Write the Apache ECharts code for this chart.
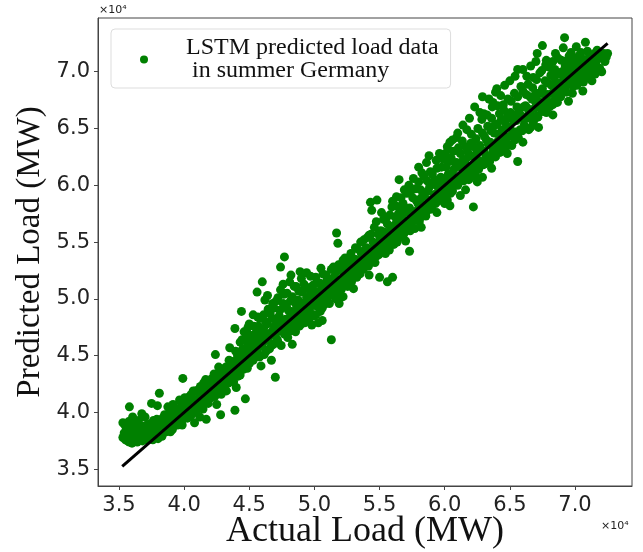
<!DOCTYPE html>
<html>
<head>
<meta charset="utf-8">
<title>LSTM predicted load - summer Germany</title>
<script src="https://cdn.jsdelivr.net/npm/echarts@6/dist/echarts.min.js"></script>
<style>
  html, body { margin: 0; padding: 0; background: #fff; }
  #chart { width: 643px; height: 552px; }
</style>
</head>
<body>
<div id="chart"></div>
<script>
// values in thousands of MW: [actual, predicted]
var band35to40 = [[35.3,37.8],[35.3,39.1],[35.4,38.2],[35.5,37.6],[35.6,38.6],[35.7,37.9],[35.8,40.5],[35.8,37.4],[35.9,38.3],[36.0,37.3],[36.1,38.9],[36.2,37.7],[36.3,38.2],[36.4,37.4],[36.5,39.3],[36.6,37.9],[36.7,38.6],[36.8,37.5],[36.9,38.1],[37.0,39.6],[37.1,37.6],[37.2,38.4],[37.3,37.9],[37.4,39.0],[37.5,40.8],[37.5,38.2],[37.6,37.6],[37.7,38.7],[37.8,38.0],[37.9,39.4],[38.0,37.7],[38.1,41.7],[38.1,38.5],[38.2,39.0],[38.3,37.9],[38.4,38.8],[38.5,39.8],[38.6,38.3],[38.7,39.2],[38.8,38.6],[38.9,40.1],[39.0,39.0],[39.1,38.5],[39.2,39.6],[39.3,40.4],[39.4,39.1],[39.5,38.9],[39.6,40.0],[39.7,39.5],[39.8,40.8],[39.9,43.0],[39.9,39.4],[40.0,40.2],[40.1,39.6]];

var band40to45 = [[40.2,40.9],[40.3,40.1],[40.4,41.4],[40.5,39.7],[40.6,40.6],[40.7,41.9],[40.8,39.1],[40.8,40.3],[40.9,41.1],[41.0,40.5],[41.1,42.0],[41.2,41.3],[41.3,40.6],[41.4,41.8],[41.5,42.6],[41.6,41.0],[41.7,39.4],[41.7,41.9],[41.8,42.3],[41.9,41.2],[42.0,42.8],[42.1,41.6],[42.2,42.1],[42.3,43.4],[42.4,45.1],[42.4,41.7],[42.5,42.6],[42.6,43.1],[42.7,42.0],[42.8,39.8],[42.8,43.6],[42.9,42.5],[43.0,43.2],[43.1,42.2],[43.2,44.0],[43.3,43.0],[43.4,42.6],[43.5,45.7],[43.5,43.8],[43.6,44.4],[43.7,43.1],[43.8,42.7],[43.9,40.2],[43.9,47.4],[43.9,44.2],[44.0,43.5],[44.1,45.0],[44.2,44.1],[44.3,43.3],[44.4,48.9],[44.4,44.8],[44.5,45.6],[44.6,44.0],[44.7,41.2],[44.7,45.2],[44.8,44.5],[44.9,47.5],[44.9,46.0],[45.0,44.3]];

var band45to50 = [[45.1,45.4],[45.2,46.5],[45.3,44.6],[45.4,45.9],[45.5,47.0],[45.6,50.6],[45.6,45.3],[45.7,46.2],[45.8,48.3],[45.8,44.9],[45.9,46.8],[46.0,51.5],[46.0,45.8],[46.1,47.4],[46.2,49.9],[46.2,46.3],[46.3,45.4],[46.4,47.8],[46.5,46.6],[46.6,48.7],[46.7,45.9],[46.8,47.2],[46.9,49.2],[47.0,43.1],[47.0,46.8],[47.1,47.9],[47.2,46.2],[47.3,48.5],[47.4,52.8],[47.4,50.8],[47.5,47.4],[47.6,49.6],[47.7,53.7],[47.7,46.9],[47.8,48.2],[47.9,47.5],[48.0,49.0],[48.1,51.5],[48.1,48.4],[48.2,47.2],[48.3,50.2],[48.4,48.8],[48.5,47.7],[48.6,49.5],[48.7,48.1],[48.8,50.7],[48.9,52.4],[48.9,48.9],[49.0,47.8],[49.1,49.6],[49.2,51.3],[49.3,48.6],[49.4,52.3],[49.4,50.1],[49.5,49.0],[49.6,48.3],[49.7,50.5],[49.8,49.4],[49.9,51.2],[50.0,49.9]];

var band50to56 = [[50.1,48.6],[50.2,50.6],[50.3,49.3],[50.4,51.4],[50.5,50.0],[50.6,48.1],[50.6,49.2],[50.7,51.0],[50.8,50.4],[50.9,52.1],[51.0,49.8],[51.1,51.5],[51.2,50.6],[51.3,46.4],[51.3,52.6],[51.4,50.9],[51.5,51.9],[51.6,50.3],[51.7,55.8],[51.7,52.4],[51.8,54.9],[51.8,51.2],[51.9,50.7],[52.0,52.9],[52.1,51.6],[52.2,50.2],[52.2,53.4],[52.3,52.1],[52.4,51.3],[52.5,53.0],[52.6,52.3],[52.7,51.7],[52.8,54.0],[52.9,52.8],[53.0,51.9],[53.1,53.5],[53.2,52.6],[53.3,54.4],[53.4,53.1],[53.5,52.2],[53.6,54.0],[53.7,53.3],[53.8,55.2],[53.9,52.9],[54.0,54.5],[54.1,53.6],[54.2,55.6],[54.3,58.5],[54.3,54.1],[54.4,57.8],[54.4,53.3],[54.5,55.0],[54.6,56.3],[54.7,54.4],[54.8,58.7],[54.8,53.8],[54.9,55.7],[55.0,51.9],[55.0,54.6],[55.1,56.0],[55.2,55.1],[55.3,57.0],[55.4,54.3],[55.5,55.8],[55.6,51.5],[55.6,56.6],[55.7,54.9],[55.8,57.4],[55.9,55.5],[56.0,51.9],[56.0,56.2]];

var band56to63 = [[56.1,54.8],[56.2,57.2],[56.3,59.0],[56.3,55.9],[56.4,56.7],[56.5,60.5],[56.5,55.4],[56.6,57.9],[56.7,56.3],[56.8,58.4],[56.9,55.9],[57.0,57.6],[57.1,59.3],[57.2,56.8],[57.3,54.2],[57.3,58.0],[57.4,56.5],[57.5,59.6],[57.6,57.3],[57.7,56.2],[57.8,58.7],[57.9,57.8],[58.0,60.3],[58.1,57.1],[58.2,58.9],[58.3,57.6],[58.4,60.8],[58.5,58.3],[58.6,62.0],[58.6,57.7],[58.7,59.5],[58.8,58.7],[58.9,61.2],[59.0,58.0],[59.1,60.1],[59.2,59.2],[59.3,58.4],[59.4,61.5],[59.5,59.8],[59.6,58.7],[59.7,60.7],[59.8,59.3],[59.9,62.3],[60.0,58.4],[60.0,60.4],[60.1,61.6],[60.2,58.7],[60.2,59.7],[60.3,61.0],[60.4,63.8],[60.4,60.2],[60.5,62.4],[60.6,64.0],[60.6,59.5],[60.7,61.4],[60.8,60.6],[60.9,64.2],[60.9,62.0],[61.0,60.0],[61.1,61.7],[61.2,59.1],[61.2,62.8],[61.3,60.9],[61.4,62.2],[61.5,61.3],[61.6,63.4],[61.7,64.9],[61.7,60.7],[61.8,62.5],[61.9,61.6],[62.0,63.7],[62.1,60.8],[62.2,58.1],[62.2,62.6],[62.3,61.9],[62.4,64.1],[62.5,62.9],[62.6,61.4],[62.7,66.4],[62.7,63.5],[62.8,62.1],[62.9,67.8],[62.9,60.7],[62.9,64.6],[63.0,63.0]];

var band63to73 = [[63.1,61.9],[63.2,64.0],[63.3,65.2],[63.4,62.6],[63.5,63.8],[63.6,65.9],[63.7,63.1],[63.8,64.6],[63.9,68.2],[63.9,62.5],[64.0,65.4],[64.1,63.9],[64.2,66.3],[64.3,63.3],[64.4,64.9],[64.5,63.7],[64.5,67.1],[64.6,68.8],[64.6,65.6],[64.7,64.2],[64.8,66.0],[64.9,63.6],[65.0,65.1],[65.1,67.4],[65.2,64.5],[65.3,66.2],[65.4,64.0],[65.5,65.7],[65.6,70.2],[65.6,62.1],[65.6,67.8],[65.7,66.6],[65.8,64.9],[65.9,66.1],[66.0,68.3],[66.1,65.3],[66.2,67.0],[66.3,65.9],[66.4,68.9],[66.5,66.4],[66.6,65.1],[66.7,67.6],[66.8,65.5],[66.8,69.5],[66.9,66.8],[67.0,68.1],[67.1,71.6],[67.1,66.1],[67.2,67.4],[67.3,69.9],[67.4,66.7],[67.5,72.3],[67.5,68.5],[67.6,67.0],[67.7,69.2],[67.8,66.4],[67.9,68.0],[68.0,70.4],[68.1,67.2],[68.2,68.8],[68.3,67.1],[68.3,70.9],[68.4,69.5],[68.5,67.9],[68.6,68.4],[68.7,71.2],[68.8,69.0],[68.9,67.8],[69.0,70.0],[69.1,72.1],[69.2,73.0],[69.2,68.6],[69.3,69.6],[69.4,71.0],[69.5,68.9],[69.6,70.3],[69.7,71.7],[69.8,68.1],[69.8,69.5],[69.9,70.8],[70.0,69.2],[70.1,72.2],[70.1,70.4],[70.2,69.0],[70.3,71.4],[70.4,70.0],[70.5,69.4],[70.6,71.1],[70.7,70.2],[70.8,72.6],[70.9,70.7],[71.0,69.6],[71.1,71.3],[71.2,70.5],[71.4,70.0],[71.5,71.6],[71.6,70.8],[71.8,71.5],[71.9,70.3],[72.1,71.2],[72.3,70.9],[72.5,71.6]];

// extra points filling the dense core of the cloud
var core35to45 = [[35.45,38.9],[35.55,38.0],[35.65,37.5],[35.75,39.2],[35.95,38.7],[36.05,39.6],[36.15,38.0],[36.35,38.7],[36.45,37.8],[36.55,38.5],[36.75,39.9],[36.85,38.8],[37.05,38.3],[37.15,38.9],[37.35,38.6],[37.45,37.7],[37.65,39.3],[37.85,38.5],[37.95,40.6],[38.05,39.2],[38.25,38.4],[38.35,39.5],[38.55,38.9],[38.75,40.5],[38.85,39.4],[38.95,38.3],[39.05,39.9],[39.15,40.7],[39.25,38.9],[39.45,40.2],[39.55,39.4],[39.65,41.1],[39.75,39.8],[39.85,38.9],[39.95,40.6],[40.05,41.3],[40.15,40.3],[40.25,39.5],[40.35,41.0],[40.45,40.6],[40.55,41.6],[40.65,39.9],[40.75,40.9],[40.85,41.9],[40.95,40.2],[41.05,41.2],[41.15,40.7],[41.25,42.3],[41.35,41.2],[41.45,40.3],[41.55,41.5],[41.65,42.9],[41.75,41.0],[41.85,40.8],[41.95,42.5],[42.05,41.3],[42.15,43.0],[42.25,42.4],[42.35,41.4],[42.45,43.3],[42.55,42.0],[42.65,44.0],[42.75,42.8],[42.85,41.6],[42.95,43.5],[43.05,42.6],[43.15,43.9],[43.25,41.9],[43.35,43.7],[43.45,44.6],[43.55,42.9],[43.65,43.5],[43.75,44.5],[43.85,43.3],[43.95,45.4],[44.05,44.4],[44.15,43.2],[44.25,45.3],[44.35,44.0],[44.45,46.4],[44.55,43.8],[44.65,44.9],[44.75,46.6],[44.85,43.9],[44.95,45.3]];

var core45to50 = [[45.05,46.8],[45.15,44.6],[45.25,45.8],[45.35,47.6],[45.45,45.1],[45.55,46.3],[45.65,48.4],[45.75,44.9],[45.85,45.9],[45.95,47.3],[46.05,46.4],[46.15,45.1],[46.25,48.0],[46.35,46.9],[46.45,49.1],[46.55,45.6],[46.65,47.0],[46.75,48.3],[46.85,46.0],[46.95,47.6],[47.05,49.8],[47.15,46.4],[47.25,47.2],[47.35,49.0],[47.45,45.9],[47.55,48.0],[47.65,50.4],[47.75,47.1],[47.85,49.3],[47.95,46.6],[48.05,48.1],[48.15,49.8],[48.25,47.5],[48.35,48.9],[48.45,51.1],[48.55,47.1],[48.65,48.4],[48.75,49.9],[48.85,47.6],[48.95,49.2],[49.05,50.6],[49.15,48.3],[49.25,47.9],[49.35,49.2],[49.45,51.0],[49.55,48.1],[49.65,49.7],[49.75,48.7],[49.85,50.3],[49.95,48.5]];

var core50to56 = [[50.05,50.6],[50.15,49.4],[50.25,51.4],[50.35,50.1],[50.45,48.9],[50.55,50.9],[50.65,52.2],[50.75,49.5],[50.85,50.8],[50.95,51.6],[51.05,50.2],[51.15,49.6],[51.25,51.7],[51.35,50.4],[51.45,52.8],[51.55,51.3],[51.65,50.0],[51.75,51.7],[51.85,53.0],[51.95,51.4],[52.05,50.8],[52.15,52.5],[52.25,51.1],[52.35,53.6],[52.45,52.0],[52.55,51.1],[52.65,53.1],[52.75,52.5],[52.85,51.5],[52.95,53.5],[53.05,52.7],[53.15,54.5],[53.25,51.9],[53.35,53.4],[53.45,52.6],[53.55,55.0],[53.65,53.6],[53.75,52.6],[53.85,54.3],[53.95,53.3],[54.05,55.4],[54.15,52.9],[54.25,54.3],[54.35,55.7],[54.45,53.9],[54.55,54.6],[54.65,53.2],[54.75,56.8],[54.85,54.9],[54.95,53.9],[55.05,55.3],[55.15,57.6],[55.25,54.4],[55.35,55.9],[55.45,54.0],[55.55,57.2],[55.65,55.2],[55.75,54.3],[55.85,56.3],[55.95,58.1]];

var core56to63 = [[56.05,55.2],[56.15,56.5],[56.25,58.2],[56.35,55.0],[56.45,57.5],[56.55,56.1],[56.65,58.9],[56.75,57.0],[56.85,55.7],[56.95,58.0],[57.05,56.4],[57.15,57.8],[57.25,60.0],[57.35,56.0],[57.45,57.7],[57.55,58.9],[57.65,56.9],[57.75,59.7],[57.85,57.1],[57.95,58.4],[58.05,56.8],[58.15,59.6],[58.25,61.1],[58.35,58.0],[58.45,59.2],[58.55,57.3],[58.65,60.4],[58.75,58.2],[58.85,59.9],[58.95,57.9],[59.05,61.0],[59.15,58.6],[59.25,60.5],[59.35,62.2],[59.45,58.6],[59.55,60.3],[59.65,59.3],[59.75,61.6],[59.85,58.9],[59.95,60.0],[60.05,62.8],[60.15,59.4],[60.25,60.9],[60.35,62.1],[60.45,59.3],[60.55,61.0],[60.65,63.0],[60.75,60.0],[60.85,61.9],[60.95,60.3],[61.05,63.3],[61.15,60.6],[61.25,61.6],[61.35,63.9],[61.45,60.4],[61.55,62.1],[61.65,61.1],[61.75,63.0],[61.85,60.5],[61.95,62.6],[62.05,64.5],[62.15,61.4],[62.25,63.4],[62.35,60.9],[62.45,62.4],[62.55,65.0],[62.65,61.7],[62.75,63.1],[62.85,65.8],[62.95,61.8]];

var core63to73 = [[63.05,64.3],[63.15,62.6],[63.25,66.2],[63.35,63.6],[63.45,62.1],[63.55,64.8],[63.65,66.9],[63.75,62.9],[63.85,65.3],[63.95,63.6],[64.05,67.0],[64.15,64.5],[64.25,62.9],[64.35,65.8],[64.45,64.1],[64.55,66.6],[64.65,63.2],[64.75,65.2],[64.85,67.6],[64.95,64.3],[65.05,66.4],[65.15,63.5],[65.25,65.7],[65.35,68.1],[65.45,64.7],[65.55,66.9],[65.65,64.2],[65.75,65.9],[65.85,68.7],[65.95,64.8],[66.05,66.9],[66.15,65.0],[66.25,68.0],[66.35,66.8],[66.45,64.9],[66.55,67.8],[66.65,66.2],[66.75,68.6],[66.85,65.8],[66.95,67.4],[67.05,69.3],[67.15,66.0],[67.25,68.1],[67.35,67.0],[67.45,70.1],[67.55,66.5],[67.65,68.0],[67.75,70.6],[67.85,67.4],[67.95,69.0],[68.05,66.9],[68.15,69.7],[68.25,68.1],[68.35,67.4],[68.45,70.2],[68.55,68.9],[68.65,67.3],[68.75,69.8],[68.85,68.3],[68.95,71.0],[69.05,68.5],[69.15,69.4],[69.25,70.5],[69.35,68.2],[69.45,70.0],[69.55,71.4],[69.65,69.1],[69.75,70.1],[69.85,68.7],[69.95,71.2],[70.05,70.0],[70.15,68.8],[70.25,70.7],[70.35,69.5],[70.45,71.7],[70.55,70.3],[70.65,69.1],[70.75,71.0],[70.85,69.9],[70.95,71.8],[71.05,70.4],[71.15,69.4],[71.3,71.1],[71.45,70.6],[71.55,69.8],[71.7,71.9],[71.75,70.3],[71.95,71.2],[72.05,70.0],[72.2,71.6],[72.4,71.3]];

// points on the upper and lower fringe of the cloud
var fringeUpper = [[44.3,46.2],[44.6,47.1],[45.0,47.8],[45.3,48.6],[45.7,47.6],[46.1,48.6],[46.4,50.3],[46.8,49.6],[47.2,50.1],[47.6,51.3],[47.9,50.5],[48.2,52.1],[48.6,51.1],[49.0,51.8],[49.3,50.9],[49.7,52.0],[50.1,51.9],[50.5,52.7],[56.0,58.6],[56.9,59.6],[57.6,60.6],[58.0,61.6],[58.8,62.6],[59.6,62.8],[60.2,63.4],[61.0,64.6],[61.4,65.3],[61.9,65.9],[62.3,66.9],[63.0,66.3],[63.4,67.6],[63.7,67.3],[64.0,68.5],[64.3,67.9],[65.0,69.2],[65.4,69.6],[66.0,70.2],[66.3,69.6],[66.6,70.5],[67.0,70.9],[67.8,71.0],[68.5,71.6]];
var fringeLower = [[41.2,39.6],[42.5,40.7],[44.0,42.2],[45.9,44.1],[46.7,44.6],[48.3,46.0],[49.8,47.7],[50.3,47.9],[51.9,49.6],[53.0,50.9],[54.2,52.1],[57.0,55.1],[58.2,56.3],[59.4,57.6],[60.4,58.2],[61.6,59.6],[62.5,60.3],[63.6,61.5],[64.8,62.8],[66.0,63.8],[67.2,65.1],[68.3,66.2],[69.5,67.4],[70.6,68.3],[71.3,69.2]];

// ideal fit line y = x
var fitLine = [35.25, 72.5];
var tickValues = [35000, 40000, 45000, 50000, 55000, 60000, 65000, 70000];

var points = band35to40.concat(band40to45, band45to50, band50to56, band56to63, band63to73,
        core35to45, core45to50, core50to56, core56to63, core63to73, fringeUpper, fringeLower)
    .map(function (p) { return [p[0] * 1000, p[1] * 1000]; });

var tickFont = { fontFamily: 'DejaVu Sans', fontSize: 21, color: '#222' };
var titleFont = 'Liberation Serif';

var myChart = echarts.init(document.getElementById('chart'), null, { renderer: 'canvas' });

var option = {
    backgroundColor: '#fff',
    animation: false,
    grid: {
        left: 98, right: 11, top: 18, bottom: 66,
        containLabel: false,
        outerBoundsMode: 'none',
        show: true, borderColor: '#444', borderWidth: 1
    },
    legend: {
        left: 111, top: 29,
        orient: 'vertical',
        data: ['LSTM predicted load data'],
        icon: 'circle',
        itemWidth: 8, itemHeight: 8,
        padding: [7, 12, 5, 29],
        backgroundColor: '#fff',
        borderColor: '#ddd', borderWidth: 1, borderRadius: 4,
        formatter: function () { return 'LSTM predicted load data\n in summer Germany'; },
        textStyle: {
            fontFamily: titleFont, fontSize: 24, lineHeight: 23, color: '#111',
            padding: [0, 0, 0, 33]
        }
    },
    xAxis: {
        type: 'value',
        min: 33390, max: 74375,
        name: 'Actual Load (MW)',
        nameLocation: 'middle', nameGap: 28,
        nameMoveOverlap: false,
        nameTextStyle: { fontFamily: titleFont, fontSize: 36, color: '#111' },
        axisLine: { show: true, lineStyle: { color: '#444', width: 1 } },
        axisTick: { show: true, length: 4, customValues: tickValues, lineStyle: { color: '#444' } },
        axisLabel: Object.assign({
            margin: 9,
            customValues: tickValues,
            formatter: function (v) { return (v / 10000).toFixed(1); }
        }, tickFont),
        splitLine: { show: false }
    },
    yAxis: {
        type: 'value',
        min: 33530, max: 74730,
        name: 'Predicted Load (MW)',
        nameLocation: 'middle', nameGap: 51, nameRotate: 90,
        nameMoveOverlap: false,
        nameTextStyle: { fontFamily: titleFont, fontSize: 33, color: '#111' },
        axisLine: { show: true, lineStyle: { color: '#444', width: 1 } },
        axisTick: { show: true, length: 4, customValues: tickValues, lineStyle: { color: '#444' } },
        axisLabel: Object.assign({
            margin: 8,
            padding: [12, 0, 0, 0],
            customValues: tickValues,
            formatter: function (v) { return (v / 10000).toFixed(1); }
        }, tickFont),
        splitLine: { show: false }
    },
    graphic: [
        {
            type: 'text', left: 99, top: 5,
            style: { text: '×10⁴', fontFamily: 'DejaVu Sans', fontSize: 11, fill: '#222' }
        },
        {
            type: 'text', left: 601, top: 521,
            style: { text: '×10⁴', fontFamily: 'DejaVu Sans', fontSize: 11, fill: '#222' }
        }
    ],
    series: [
        {
            name: 'LSTM predicted load data',
            type: 'scatter',
            symbolSize: 9,
            itemStyle: { color: '#008000', opacity: 1 },
            data: points,
            z: 2
        },
        {
            name: 'fit',
            type: 'line',
            symbol: 'none',
            lineStyle: { color: '#000', width: 3 },
            data: [[fitLine[0] * 1000, fitLine[0] * 1000], [fitLine[1] * 1000, fitLine[1] * 1000]],
            z: 3
        }
    ]
};

myChart.setOption(option, true);
</script>
</body>
</html>
